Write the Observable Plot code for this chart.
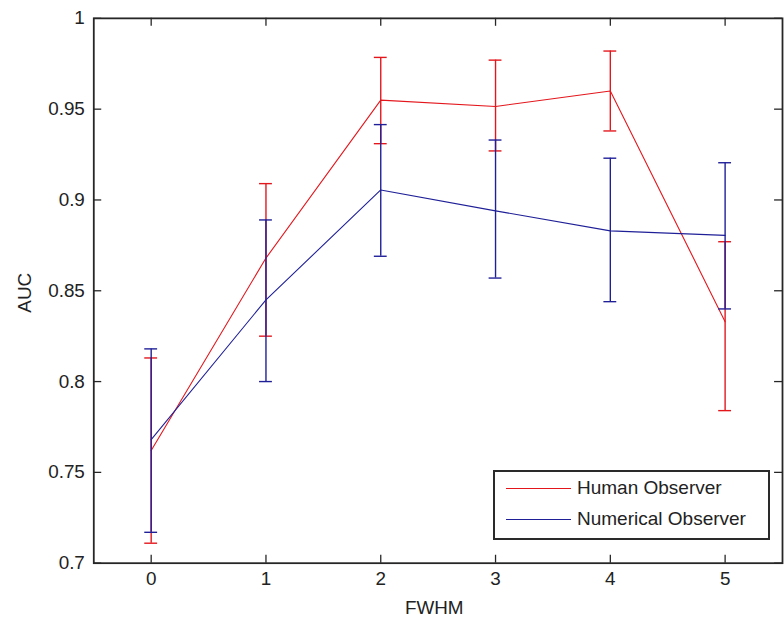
<!DOCTYPE html>
<html>
<head>
<meta charset="utf-8">
<script src="https://cdn.jsdelivr.net/npm/d3@7"></script>
<script src="https://cdn.jsdelivr.net/npm/@observablehq/plot@0.6"></script>
<style>
  html, body { margin: 0; padding: 0; background: #fff; overflow: hidden; }
  #wrap { position: relative; width: 784px; height: 626px; overflow: hidden; }
  .legend { position: absolute; left: 493px; top: 470px; width: 273px; height: 66px;
    border: 2px solid #2a2a2a; background: #fff; font-family: "Liberation Sans", Arial, sans-serif;
    font-size: 19px; color: #222; }
  .legend .row { position: absolute; left: 0; height: 20px; display: flex; align-items: center; }
  .legend .sw { width: 65px; height: 0; border-top: 1.5px solid; margin-left: 11px; margin-right: 6px; }
</style>
</head>
<body>
<div id="wrap"></div>
<script>
const fwhm = [0, 1, 2, 3, 4, 5];
const humanMean  = [0.762, 0.868, 0.955, 0.9515, 0.960, 0.833];
const humanLow   = [0.711, 0.825, 0.931, 0.927, 0.938, 0.784];
const humanHigh  = [0.813, 0.909, 0.9785, 0.977, 0.982, 0.877];
const numMean    = [0.768, 0.845, 0.9055, 0.894, 0.883, 0.8805];
const numLow     = [0.717, 0.800, 0.869, 0.857, 0.844, 0.840];
const numHigh    = [0.818, 0.889, 0.9415, 0.933, 0.923, 0.9205];
const seriesNames = ["Human Observer", "Numerical Observer"];
const seriesColors = ["#e3161c", "#1f1f98"];
const xTicks = [0, 1, 2, 3, 4, 5];
const xTickLabels = ["0", "1", "2", "3", "4", "5"];
const yTicks = [0.7, 0.75, 0.8, 0.85, 0.9, 0.95, 1];
const yTickLabels = ["0.7", "0.75", "0.8", "0.85", "0.9", "0.95", "1"];

const human = fwhm.map((x, i) => ({x, mean: humanMean[i], lo: humanLow[i], hi: humanHigh[i]}));
const numer = fwhm.map((x, i) => ({x, mean: numMean[i], lo: numLow[i], hi: numHigh[i]}));

const W = 790, H = 626, mL = 94, mR = 2, mT = 18, mB = 59;
const innerW = W - mL - mR, innerH = H - mT - mB;
const capHalf = 0.056;
const axisColor = "#262626";
const font = "Liberation Sans, Arial, sans-serif";

function seriesMarks(data, color) {
  return [
    Plot.line(data, {x: "x", y: "mean", stroke: color, strokeWidth: 1.1}),
    Plot.ruleX(data, {x: "x", y1: "lo", y2: "hi", stroke: color, strokeWidth: 1.4}),
    Plot.ruleY(data, {y: "lo", x1: d => d.x - capHalf, x2: d => d.x + capHalf, stroke: color, strokeWidth: 1.4}),
    Plot.ruleY(data, {y: "hi", x1: d => d.x - capHalf, x2: d => d.x + capHalf, stroke: color, strokeWidth: 1.4})
  ];
}

const chart = Plot.plot({
  width: W, height: H,
  marginLeft: mL, marginRight: mR, marginTop: mT, marginBottom: mB,
  style: {fontFamily: font, fontSize: "19px", color: "#222", background: "#fff", overflow: "visible"},
  x: {domain: [-0.5, 5.5]},
  y: {domain: [0.7, 1]},
  marks: [
    Plot.frame({stroke: axisColor, strokeWidth: 1.8}),
    Plot.tickX(xTicks, {x: d => d, insetTop: innerH - 8, stroke: axisColor, strokeWidth: 1.3}),
    Plot.tickX(xTicks, {x: d => d, insetBottom: innerH - 8, stroke: axisColor, strokeWidth: 1.3}),
    Plot.tickY(yTicks, {y: d => d, insetRight: innerW - 8, stroke: axisColor, strokeWidth: 1.3}),
    Plot.tickY(yTicks, {y: d => d, insetLeft: innerW - 8, stroke: axisColor, strokeWidth: 1.3}),
    Plot.axisX({ticks: xTicks, tickSize: 0, tickPadding: 8, label: null, fontSize: 19,
      tickFormat: d => xTickLabels[xTicks.indexOf(d)]}),
    Plot.axisY({ticks: yTicks, tickSize: 0, tickPadding: 9, label: null, fontSize: 19,
      tickFormat: d => yTickLabels[yTicks.indexOf(d)]}),
    Plot.text(["FWHM"], {frameAnchor: "bottom", dx: -4, dy: 45, text: d => d, fontSize: 19, lineAnchor: "middle"}),
    Plot.text(["AUC"], {frameAnchor: "left", dx: -69, dy: 2, rotate: -90, text: d => d, fontSize: 19, textAnchor: "middle"}),
    ...seriesMarks(human, seriesColors[0]),
    ...seriesMarks(numer, seriesColors[1])
  ]
});

const wrap = document.getElementById("wrap");
wrap.appendChild(chart);

const legend = document.createElement("div");
legend.className = "legend";
seriesNames.forEach((name, i) => {
  const row = document.createElement("div");
  row.className = "row";
  row.style.top = (i === 0 ? 6 : 37) + "px";
  const sw = document.createElement("div");
  sw.className = "sw";
  sw.style.borderTopColor = seriesColors[i];
  const label = document.createElement("span");
  label.textContent = name;
  row.appendChild(sw);
  row.appendChild(label);
  legend.appendChild(row);
});
wrap.appendChild(legend);
</script>
</body>
</html>
